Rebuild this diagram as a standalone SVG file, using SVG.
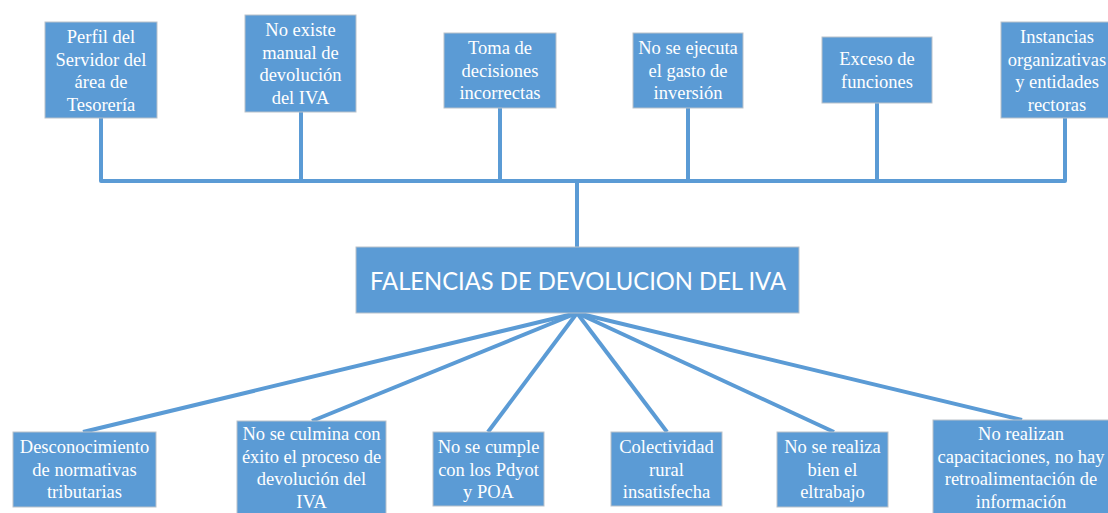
<svg xmlns="http://www.w3.org/2000/svg" width="1108" height="513" viewBox="0 0 1108 513">
<defs>
<style>
.box{fill:#5B9BD5;stroke:#b9c1ca;stroke-width:1}
.t{font-family:"Liberation Serif","Times New Roman",serif;font-size:18.5px;fill:#ffffff;text-anchor:middle}
.title{font-family:Lato,"Liberation Sans",sans-serif;font-size:25px;fill:#ffffff;text-anchor:middle}
.ln{stroke:#5B9BD5;stroke-width:4;fill:none;stroke-linejoin:round}
</style>
</defs>
<rect width="1108" height="513" fill="#ffffff"/>
<g id="connectors">
<path class="ln" d="M101,118 V181 H1065 V118"/>
<path class="ln" d="M301,112 V181"/>
<path class="ln" d="M500,108 V181"/>
<path class="ln" d="M688,108 V181"/>
<path class="ln" d="M877,103 V181"/>
<path class="ln" d="M577,181 V247"/>
<path class="ln" d="M577,313 L83,432"/>
<path class="ln" d="M577,313 L312,421"/>
<path class="ln" d="M577,313 L488,432"/>
<path class="ln" d="M577,313 L667,432"/>
<path class="ln" d="M577,313 L834,432"/>
<path class="ln" d="M577,313 L1022,420"/>
</g>
<g id="top1">
<rect class="box" x="45" y="22" width="112" height="96"/>
<text class="t" x="101" y="43">Perfil del</text>
<text class="t" x="101" y="65.5">Servidor del</text>
<text class="t" x="101" y="88">área de</text>
<text class="t" x="101" y="110.5">Tesorería</text>
</g>
<g id="top2">
<rect class="box" x="245" y="15" width="111" height="97"/>
<text class="t" x="300.5" y="36">No existe</text>
<text class="t" x="300.5" y="58.5">manual de</text>
<text class="t" x="300.5" y="81">devolución</text>
<text class="t" x="300.5" y="103.5">del IVA</text>
</g>
<g id="top3">
<rect class="box" x="444" y="33" width="112" height="75"/>
<text class="t" x="500" y="54">Toma de</text>
<text class="t" x="500" y="76.5">decisiones</text>
<text class="t" x="500" y="99">incorrectas</text>
</g>
<g id="top4">
<rect class="box" x="633" y="33" width="110" height="75"/>
<text class="t" x="688" y="54">No se ejecuta</text>
<text class="t" x="688" y="76.5">el gasto de</text>
<text class="t" x="688" y="99">inversión</text>
</g>
<g id="top5">
<rect class="box" x="822" y="37" width="110" height="66"/>
<text class="t" x="877" y="65">Exceso de</text>
<text class="t" x="877" y="87.5">funciones</text>
</g>
<g id="top6">
<rect class="box" x="1001" y="22" width="113" height="96"/>
<text class="t" x="1057" y="43">Instancias</text>
<text class="t" x="1057" y="65.5">organizativas</text>
<text class="t" x="1057" y="88">y entidades</text>
<text class="t" x="1057" y="110.5">rectoras</text>
</g>
<g id="center">
<rect class="box" x="356" y="247" width="443" height="66"/>
<text class="title" x="578" y="290" textLength="416" lengthAdjust="spacingAndGlyphs">FALENCIAS DE DEVOLUCION DEL IVA</text>
</g>
<g id="bot1">
<rect class="box" x="13" y="432" width="143" height="75"/>
<text class="t" x="84.5" y="453">Desconocimiento</text>
<text class="t" x="84.5" y="475.5">de normativas</text>
<text class="t" x="84.5" y="498">tributarias</text>
</g>
<g id="bot2">
<rect class="box" x="237" y="421" width="149" height="100"/>
<text class="t" x="311.5" y="440">No se culmina con</text>
<text class="t" x="311.5" y="462.5">éxito el proceso de</text>
<text class="t" x="311.5" y="485">devolución del</text>
<text class="t" x="311.5" y="507.5">IVA</text>
</g>
<g id="bot3">
<rect class="box" x="433" y="432" width="111" height="74"/>
<text class="t" x="488.5" y="453">No se cumple</text>
<text class="t" x="488.5" y="475.5">con los Pdyot</text>
<text class="t" x="488.5" y="498">y POA</text>
</g>
<g id="bot4">
<rect class="box" x="611" y="432" width="111" height="74"/>
<text class="t" x="666.5" y="453">Colectividad</text>
<text class="t" x="666.5" y="475.5">rural</text>
<text class="t" x="666.5" y="498">insatisfecha</text>
</g>
<g id="bot5">
<rect class="box" x="777" y="432" width="111" height="75"/>
<text class="t" x="832.5" y="453">No se realiza</text>
<text class="t" x="832.5" y="475.5">bien el</text>
<text class="t" x="832.5" y="498">eltrabajo</text>
</g>
<g id="bot6">
<rect class="box" x="933" y="420" width="178" height="100"/>
<text class="t" x="1021" y="440">No realizan</text>
<text class="t" x="1021" y="462.5">capacitaciones, no hay</text>
<text class="t" x="1021" y="485">retroalimentación de</text>
<text class="t" x="1021" y="507.5">información</text>
</g>
</svg>
